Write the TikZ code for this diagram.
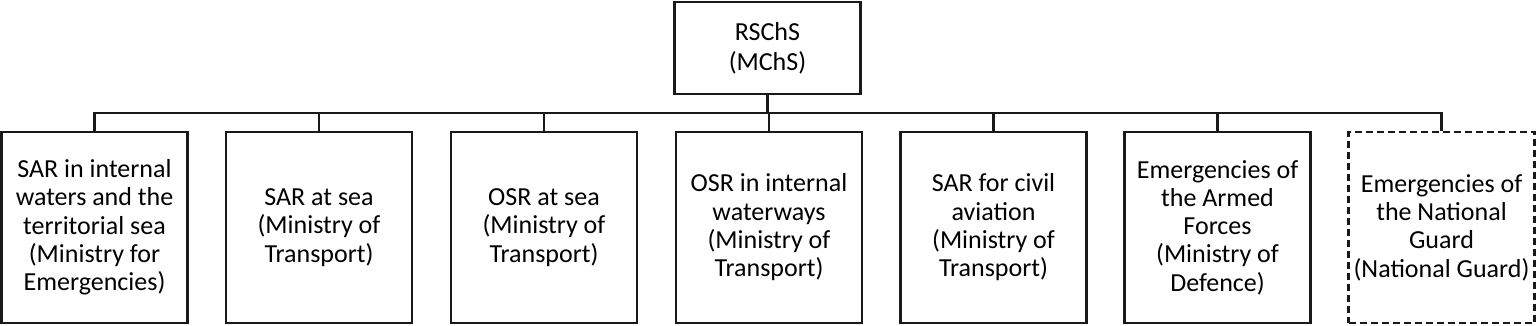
\documentclass[tikz,border=0pt]{standalone}
\usepackage{fontspec}
\setmainfont{Carlito}
\begin{document}
\begin{tikzpicture}[x=1pt,y=-1pt,
  box/.style={draw=black!90,line width=2.6pt,minimum width=186pt,minimum height=191pt,align=center,inner sep=2pt,font=\fontsize{26}{28.3}\selectfont},
  topbox/.style={box,minimum height=92pt,font=\fontsize{26}{30}\selectfont},
  dbox/.style={box,dash pattern=on 7pt off 4pt},
  conn/.style={draw=black!90,line width=2.6pt}]
\useasboundingbox (0,0) rectangle (1536,326);
\node[topbox] (top) at (767.5,48) {RSChS\\(MChS)};
\node[box] (b1) at (94.5,227.5) {SAR in internal\\waters and the\\territorial sea\\(Ministry for\\Emergencies)};
\node[box] (b2) at (319,227.5) {SAR at sea\\(Ministry of\\Transport)};
\node[box] (b3) at (544,227.5) {OSR at sea\\(Ministry of\\Transport)};
\node[box] (b4) at (769,227.5) {OSR in internal\\waterways\\(Ministry of\\Transport)};
\node[box] (b5) at (993.5,227.5) {SAR for civil\\aviation\\(Ministry of\\Transport)};
\node[box] (b6) at (1217.5,227.5) {Emergencies of\\the Armed\\Forces\\(Ministry of\\Defence)};
\node[dbox] (b7) at (1441.5,227.5) {Emergencies of\\the National\\Guard\\(National Guard)};
\coordinate (bus) at (0,113);
\draw[conn] (top.south) -- (top.south |- bus);
\draw[conn,line cap=rect] (b1.north |- bus) -- (b7.north |- bus);
\foreach \n in {b1,b2,b3,b4,b5,b6,b7}{\draw[conn] (\n.north |- bus) -- (\n.north);}
\end{tikzpicture}
\end{document}
